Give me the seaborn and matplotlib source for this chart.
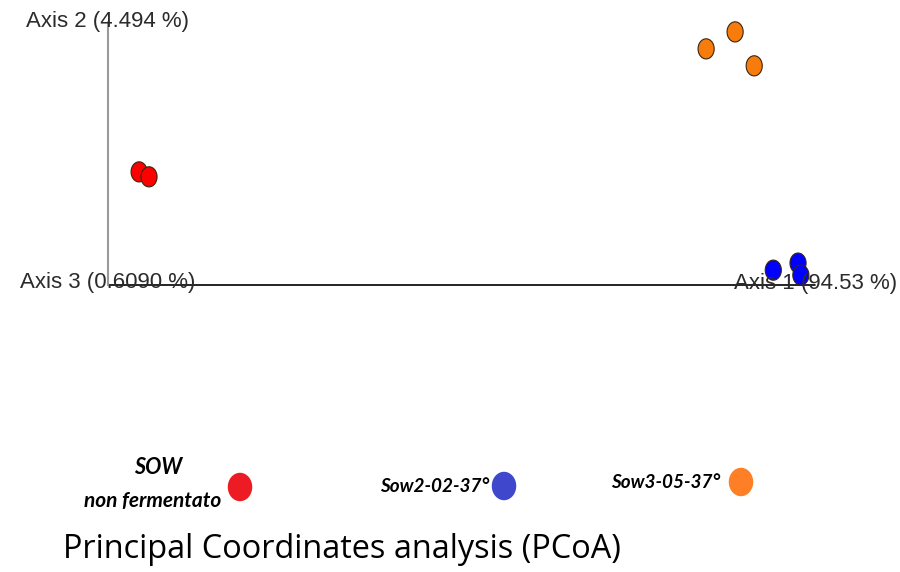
import numpy as np
import pandas as pd
import matplotlib
matplotlib.use("Agg")
import matplotlib.pyplot as plt
from matplotlib.path import Path
import seaborn as sns

# PCoA sample coordinates (Axis 1, Axis 2)
groups = ["SOW non fermentato", "SOW non fermentato",
          "Sow3-05-37°", "Sow3-05-37°", "Sow3-05-37°",
          "Sow2-02-37°", "Sow2-02-37°", "Sow2-02-37°"]
axis1 = [0.044, 0.058, 0.846, 0.887, 0.914, 0.941, 0.976, 0.980]
axis2 = [0.160, 0.153, 0.334, 0.358, 0.310, 0.021, 0.031, 0.014]

axis_labels = ["Axis 1 (94.53 %)", "Axis 2 (4.494 %)", "Axis 3 (0.6090 %)"]
legend_labels = ["SOW\nnon fermentato", "Sow2-02-37°", "Sow3-05-37°"]
point_colors = {"SOW non fermentato": "#ff0000",
                "Sow2-02-37°": "#0000ff",
                "Sow3-05-37°": "#f77c0c"}
legend_colors = ["#ed1c24", "#3f48cc", "#ff7f27"]
title = "Principal Coordinates analysis (PCoA)"

df = pd.DataFrame({"Axis 1": axis1, "Axis 2": axis2, "group": groups})

sns.set_theme(style="white")

# vertically elongated ellipse marker
t = np.linspace(0, 2 * np.pi, 60)
ell = Path(np.column_stack([0.4 * np.cos(t), 0.5 * np.sin(t)]), closed=True)
ell_leg = Path(np.column_stack([0.43 * np.cos(t), 0.5 * np.sin(t)]), closed=True)

fig = plt.figure(figsize=(9, 5.72), dpi=100)
ax = fig.add_axes([0, 0, 1, 1])
ax.set_xlim(-108 / 707, 792 / 707)
ax.set_ylim(-287 / 707, 285 / 707)
ax.axis("off")

# axis lines of the ordination
ax1_len = 1.0
ax2_len = 263 / 707
ax.plot([0, ax1_len], [0, 0], color="black", lw=1.2, zorder=1)
ax.plot([0, 0], [0, ax2_len], color="#9a9a9a", lw=1.5, zorder=1)

sns.scatterplot(data=df, x="Axis 1", y="Axis 2", hue="group",
                palette=point_colors, marker=ell, s=210,
                edgecolor="#3a2410", linewidth=0.8, legend=False, ax=ax, zorder=3)

txt_kw = dict(family="Liberation Sans", fontsize=16, color="#2b2b2b",
              ha="center", va="center", zorder=4)
ax.text(ax1_len + 0.001, 0.002, axis_labels[0], **txt_kw)
ax.text(0, ax2_len + 0.001, axis_labels[1], **txt_kw)
ax.text(0, 0.004, axis_labels[2], **txt_kw)

# legend and caption in pixel layout
lay = fig.add_axes([0, 0, 1, 1])
lay.set_xlim(0, 900)
lay.set_ylim(572, 0)
lay.axis("off")
lay.patch.set_alpha(0)

leg_font = dict(family="Lato", fontweight="bold", style="italic",
                color="black", va="center")
sow_top, sow_bottom = legend_labels[0].split("\n")
lay.text(158, 467, sow_top, ha="center", fontsize=15.5, **leg_font)
lay.text(153, 501, sow_bottom, ha="center", fontsize=15, **leg_font)
lay.text(489, 487, legend_labels[1], ha="right", fontsize=13.6, **leg_font)
lay.text(720, 483, legend_labels[2], ha="right", fontsize=13.6, **leg_font)

lay.scatter([240, 504, 741], [487, 486, 482], c=legend_colors, marker=ell_leg,
            s=420, linewidths=0)

lay.text(63, 549, title, family="Open Sans", fontsize=23.4, color="black",
         ha="left", va="center")

fig.savefig("out.png", dpi=100)
